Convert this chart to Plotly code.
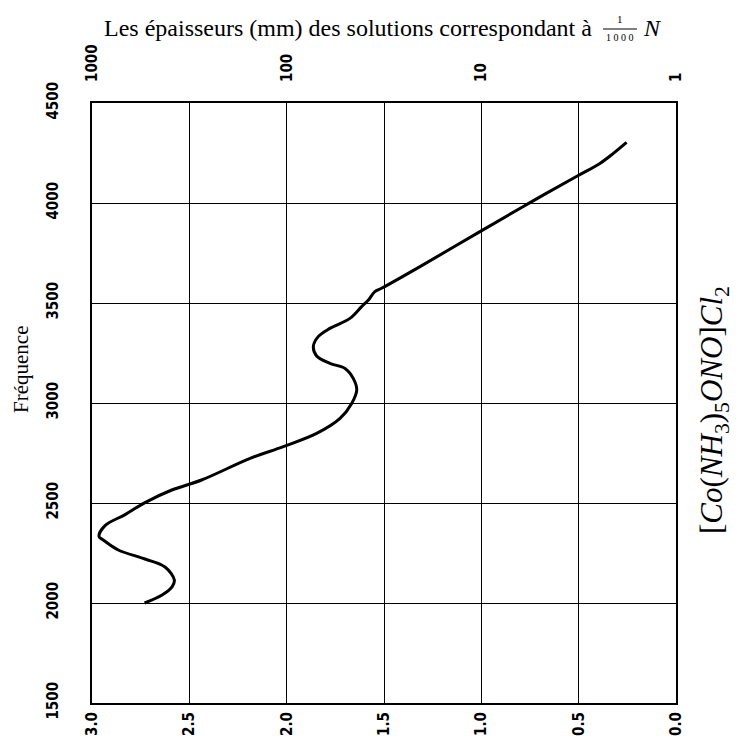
import plotly.graph_objects as go

# Absorption curve: frequency vs. log10 of layer thickness
frequence = [2000, 2040, 2082, 2115, 2180, 2220, 2265, 2315, 2333, 2387, 2442, 2502,
             2565, 2615, 2723, 2782, 2848, 2923, 2998, 3065, 3123, 3173, 3198, 3235,
             3282, 3332, 3373, 3423, 3482, 3515, 3557, 3575, 3682, 3857, 4002, 4135,
             4198, 4248, 4303]
log_epaisseur = [2.73, 2.64, 2.588, 2.577, 2.625, 2.728, 2.865, 2.942, 2.964, 2.933,
                 2.83, 2.728, 2.59, 2.437, 2.188, 2.017, 1.846, 1.726, 1.666, 1.640,
                 1.658, 1.70, 1.778, 1.846, 1.863, 1.838, 1.778, 1.675, 1.615, 1.58,
                 1.547, 1.51, 1.315, 1.007, 0.75, 0.507, 0.391, 0.322, 0.254]

bottom_ticks = [3.0, 2.5, 2.0, 1.5, 1.0, 0.5, 0.0]
top_tickvals = [3, 2, 1, 0]
top_ticktext = ["1000", "100", "10", "1"]
freq_ticks = [1500, 2000, 2500, 3000, 3500, 4000, 4500]

tick_font = dict(family="Liberation Sans Narrow, DejaVu Sans Condensed, Roboto, sans-serif",
                 size=15, color="black", weight="bold")
serif = "Liberation Serif, DejaVu Serif, serif"

fig = go.Figure()
fig.add_trace(go.Scatter(
    x=log_epaisseur, y=frequence, mode="lines",
    line=dict(color="black", width=3, shape="spline", smoothing=1.0),
    showlegend=False, hoverinfo="skip"))
# invisible trace to activate the top axis
fig.add_trace(go.Scatter(x=[3, 0], y=[1500, 1500], xaxis="x2", mode="markers",
                         marker=dict(opacity=0), showlegend=False, hoverinfo="skip"))

fig.update_layout(
    width=740, height=743,
    margin=dict(l=92, r=64, t=103, b=40, autoexpand=False),
    paper_bgcolor="white", plot_bgcolor="white",
    xaxis=dict(range=[3, 0], tickvals=bottom_ticks, tickformat=".1f",
               tickangle=-90, tickfont=tick_font, ticks="", ticklabelstandoff=1,
               showgrid=True, gridcolor="black", gridwidth=1.3,
               showline=True, linecolor="black", linewidth=2, mirror=True,
               zeroline=False, automargin=False),
    xaxis2=dict(range=[3, 0], overlaying="x", side="top", tickvals=top_tickvals,
                ticktext=top_ticktext, tickangle=-90, tickfont=tick_font, ticks="",
                ticklabelstandoff=20, showgrid=False, zeroline=False, showline=False,
                automargin=False),
    yaxis=dict(range=[1500, 4500], tickvals=freq_ticks, tickangle=-90,
               tickfont=tick_font, ticks="", ticklabelstandoff=26,
               showgrid=True, gridcolor="black", gridwidth=1.3,
               showline=True, linecolor="black", linewidth=2, mirror=True,
               zeroline=False, automargin=False),
)

def px_x(px):
    return (px - 92) / 584.0

def px_y(py):
    return (703 - py) / 600.0

annotations = [
    dict(text="Les épaisseurs (mm) des solutions correspondant à",
         x=px_x(594), y=px_y(28), xanchor="right", yanchor="middle",
         font=dict(family=serif, size=24, color="black")),
    dict(text="1", x=px_x(620), y=px_y(19), xanchor="center", yanchor="middle",
         font=dict(family=serif, size=11, color="black")),
    dict(text="1 0 0 0", x=px_x(620), y=px_y(38), xanchor="center", yanchor="middle",
         font=dict(family=serif, size=10, color="black")),
    dict(text="<i>N</i>", x=px_x(641), y=px_y(28), xanchor="left", yanchor="middle",
         font=dict(family=serif, size=24, color="black")),
    dict(text="Fréquence", x=px_x(21), y=px_y(370), xanchor="center", yanchor="middle",
         textangle=-90, font=dict(family=serif, size=21, color="black")),
    dict(text="[<i>Co</i>(<i>NH</i><sub>3</sub>)<sub>5</sub><i>ONO</i>]<i>Cl</i><sub>2</sub>",
         x=px_x(714), y=px_y(410), xanchor="center", yanchor="middle",
         textangle=-90, font=dict(family=serif, size=31, color="black")),
]
for a in annotations:
    a.update(xref="paper", yref="paper", showarrow=False)
fig.update_layout(annotations=annotations)

# fraction bar
fig.add_shape(type="line", xref="paper", yref="paper",
              x0=px_x(603), x1=px_x(637), y0=px_y(29), y1=px_y(29),
              line=dict(color="black", width=1))

fig.write_html("out.html")
